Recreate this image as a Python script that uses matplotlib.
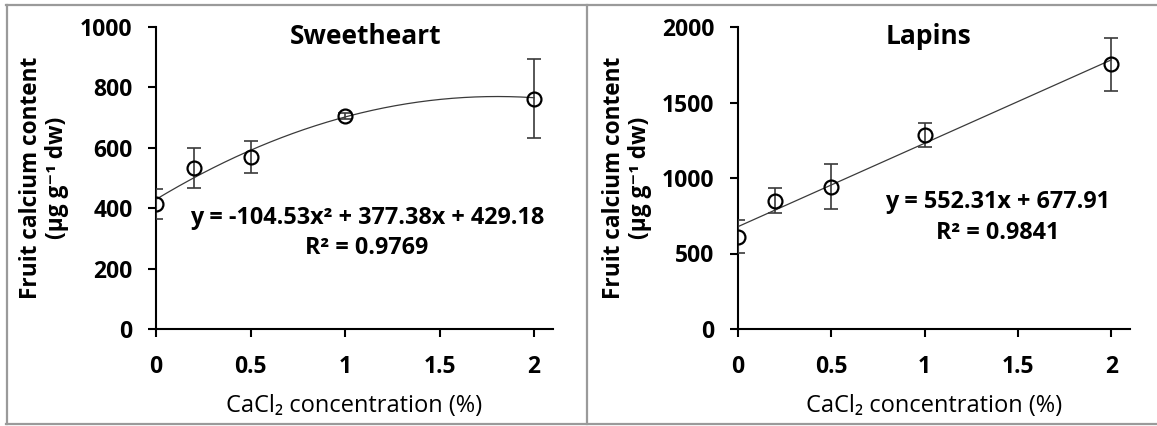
import matplotlib
matplotlib.use("Agg")
import matplotlib.pyplot as plt
from matplotlib.lines import Line2D
import numpy as np

# ---------------- data ----------------
conc = [0, 0.2, 0.5, 1, 2]

sweet_mean = [413, 532, 569, 704, 763]
sweet_err = [50, 66, 54, 10, 131]
sweet_coef = [-104.53, 377.38, 429.18]   # quadratic trendline
sweet_r2 = 0.9769

lapins_mean = [611, 850, 942, 1287, 1752]
lapins_err = [110, 85, 150, 80, 175]
lapins_coef = [552.31, 677.91]           # linear trendline
lapins_r2 = 0.9841

x_ticks = [0, 0.5, 1, 1.5, 2]
x_tick_labels = ["0", "0.5", "1", "1.5", "2"]
sweet_yticks = [0, 200, 400, 600, 800, 1000]
lapins_yticks = [0, 500, 1000, 1500, 2000]

titles = ["Sweetheart", "Lapins"]
ylabel = "Fruit calcium content\n(µg g⁻¹ dw)"
xlabel = "CaCl₂ concentration (%)"

FONT = ["Open Sans", "DejaVu Sans"]
plt.rcParams["font.family"] = FONT

TICK_FS = 16.5
EQ_FS = 16.8
TITLE_FS = 19
YL_FS = 16.3
XL_FS = 17

W, H = 1157, 426
fig = plt.figure(figsize=(W / 100, H / 100), dpi=100)
fig.patch.set_facecolor("white")

def px_rect(l, r, b, t):
    return [l / W, 1 - b / H, (r - l) / W, (b - t) / H]

axL = fig.add_axes(px_rect(156, 553, 329, 27))
axR = fig.add_axes(px_rect(738, 1130, 329, 27))

def style(ax, yticks, ylim):
    ax.set_xlim(0, 2.1)
    ax.set_ylim(*ylim)
    ax.set_xticks(x_ticks)
    ax.set_xticklabels(x_tick_labels)
    ax.set_yticks(yticks)
    for s in ["top", "right"]:
        ax.spines[s].set_visible(False)
    for s in ["left", "bottom"]:
        ax.spines[s].set_linewidth(1.5)
        ax.spines[s].set_color("black")
    ax.tick_params(axis="both", direction="out", length=6, width=1.5, color="black")
    ax.tick_params(axis="y", pad=11)
    ax.tick_params(axis="x", pad=12.5)
    for lab in ax.get_xticklabels() + ax.get_yticklabels():
        lab.set_fontsize(TICK_FS)
        lab.set_fontweight("bold")
        lab.set_family(FONT)
    ax.text(-0.283, 0.5, ylabel, transform=ax.transAxes, rotation=90,
            ha="center", va="center", multialignment="center",
            fontsize=YL_FS, fontweight="bold", linespacing=1.1)
    ax.text(0.5, -0.255, xlabel, transform=ax.transAxes, ha="center",
            va="center", fontsize=XL_FS)

def points(ax, mean, err):
    ax.errorbar(conc, mean, yerr=err, fmt="none", ecolor="#3a3a3a",
                elinewidth=1.2, capsize=4.7, capthick=1.2, zorder=3)
    ax.plot(conc, mean, "o", mfc="none", mec="black", ms=10, mew=1.6,
            zorder=4)

# Sweetheart
style(axL, sweet_yticks, (0, 1000))
xs = np.linspace(0, 2, 200)
axL.plot(xs, np.polyval(sweet_coef, xs), color="#3a3a3a", lw=0.9, zorder=2)
points(axL, sweet_mean, sweet_err)
axL.text(0.529, 0.967, titles[0], transform=axL.transAxes, ha="center",
         va="center", fontsize=TITLE_FS, fontweight="bold")
axL.text(0.531, 0.3675,
         f"y = {sweet_coef[0]:.2f}x² + {sweet_coef[1]:.2f}x + {sweet_coef[2]:.2f}",
         transform=axL.transAxes, ha="center", va="center", fontsize=EQ_FS,
         fontweight="bold")
axL.text(0.531, 0.268, f"R² = {sweet_r2:.4f}", transform=axL.transAxes,
         ha="center", va="center", fontsize=EQ_FS, fontweight="bold")

# Lapins
style(axR, lapins_yticks, (0, 2000))
axR.plot(xs, np.polyval(lapins_coef, xs), color="#3a3a3a", lw=0.9, zorder=2)
points(axR, lapins_mean, lapins_err)
axR.text(0.485, 0.967, titles[1], transform=axR.transAxes, ha="center",
         va="center", fontsize=TITLE_FS, fontweight="bold")
axR.text(0.663, 0.4205,
         f"y = {lapins_coef[0]:.2f}x + {lapins_coef[1]:.2f}",
         transform=axR.transAxes, ha="center", va="center", fontsize=EQ_FS,
         fontweight="bold")
axR.text(0.663, 0.318, f"R² = {lapins_r2:.4f}", transform=axR.transAxes,
         ha="center", va="center", fontsize=EQ_FS, fontweight="bold")

# frame lines
gray = "#9a9a9a"
def fline(x0, y0, x1, y1):
    fig.add_artist(Line2D([x0 / W, x1 / W], [1 - y0 / H, 1 - y1 / H],
                          color=gray, lw=1.6, transform=fig.transFigure))
fline(6, 5, W, 5)
fline(6, 424, W, 424)
fline(7, 5, 7, 424)
fline(587, 5, 587, 424)

fig.savefig("out.png", dpi=100, facecolor="white")
